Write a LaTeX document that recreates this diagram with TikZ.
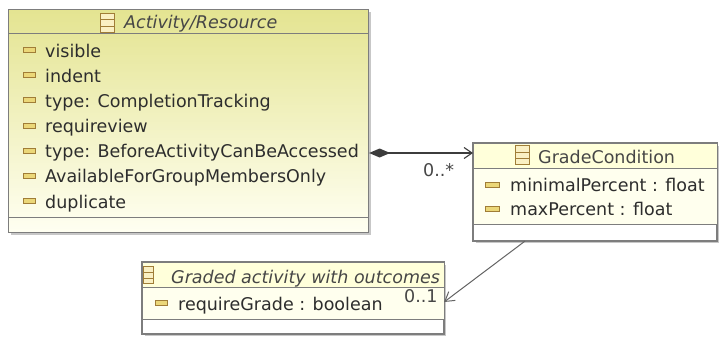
\documentclass[tikz,border=0pt]{standalone}
\usepackage{fontspec}
\setmainfont{DejaVu Sans}
\usetikzlibrary{arrows.meta,calc,shadows}
\definecolor{bord}{RGB}{125,125,125}
\definecolor{txt}{RGB}{45,45,45}
\definecolor{ttl}{RGB}{70,70,70}
\definecolor{iconbrown}{RGB}{160,125,55}
\definecolor{iconfill}{RGB}{250,240,195}
\definecolor{attrfill}{RGB}{235,215,120}
\definecolor{hdrA}{RGB}{228,228,145}
\definecolor{botA}{RGB}{255,255,242}
\definecolor{hdrB}{RGB}{255,255,218}
\definecolor{bodyB}{RGB}{255,255,238}
\definecolor{lnk}{RGB}{60,60,60}
\definecolor{lnkb}{RGB}{100,100,100}
\tikzset{
  umlbox/.style={draw=bord, line width=1.1pt, rectangle, inner sep=0pt, anchor=north west,
    drop shadow={shadow xshift=2pt, shadow yshift=-2pt, fill=black!22, opacity=1}},
  divider/.style={draw=bord, line width=1pt},
  attr/.style={anchor=base west, inner sep=0pt, text=txt},
  title/.style={anchor=base west, inner sep=0pt, text=ttl},
  attricon/.style={draw=iconbrown, fill=attrfill, line width=0.9pt, rectangle, inner sep=0pt,
    minimum width=12pt, minimum height=5pt},
  classicon/.style={draw=iconbrown, fill=iconfill, line width=1pt, rectangle, inner sep=0pt,
    path picture={
      \draw[iconbrown, line width=0.8pt]
        ($(path picture bounding box.north west)!0.36!(path picture bounding box.south west)$) --
        ($(path picture bounding box.north east)!0.36!(path picture bounding box.south east)$)
        ($(path picture bounding box.north west)!0.68!(path picture bounding box.south west)$) --
        ($(path picture bounding box.north east)!0.68!(path picture bounding box.south east)$);
    }},
  comp/.style={draw=lnk, line width=1.4pt, {Diamond[length=21pt,width=9pt,fill=lnk]}-{Straight Barb[length=8pt,width=11pt,line width=1.1pt]}},
  assoc/.style={draw=lnkb, line width=1pt, -{Straight Barb[length=9pt,width=11pt]}},
  mult/.style={anchor=base west, inner sep=0pt, text=ttl}
}
\begin{document}
\begin{tikzpicture}[x=1pt,y=-1pt, font=\fontsize{17.5}{21}\selectfont]
\useasboundingbox[fill=white] (0,0) rectangle (722,340);

% ---------- Activity/Resource ----------
\node[umlbox, minimum width=360pt, minimum height=223pt, top color=hdrA, bottom color=botA] (act) at (8,9) {};
\draw[divider] ($(act.north west)+(0,24)$) -- ($(act.north east)+(0,24)$);
\draw[divider] ($(act.south west)+(0,-16)$) -- ($(act.south east)+(0,-16)$);
\node[classicon, minimum width=14pt, minimum height=19pt] (actic) at (107.5,22.5) {};
\node[title, font=\fontsize{17.5}{21}\selectfont\itshape] (actt) at (124,28) {Activity/Resource};
\foreach \k/\t [count=\i] in {57/visible, 82.2/indent, 107.3/{type: CompletionTracking}, 132.5/requireview,
  157.7/{type: BeforeActivityCanBeAccessed}, 182.8/AvailableForGroupMembersOnly, 208/duplicate}{
  \node[attricon] (acti\i) at (29,\k-7) {};
  \node[attr] (acta\i) at (45,\k) {\t};
}

% ---------- GradeCondition ----------
\node[umlbox, minimum width=243pt, minimum height=97pt, fill=white] (gc) at (473,143) {};
\fill[hdrB] ($(gc.north west)+(0.6,0.6)$) rectangle ($(gc.north east)+(-0.6,25)$);
\fill[bodyB] ($(gc.north west)+(0.6,25)$) rectangle ($(gc.south east)+(-0.6,-17)$);
\draw[bord, line width=1.1pt] (gc.north west) rectangle (gc.south east);
\draw[divider] ($(gc.north west)+(0,25)$) -- ($(gc.north east)+(0,25)$);
\draw[divider] ($(gc.south west)+(0,-17)$) -- ($(gc.south east)+(0,-17)$);
\node[classicon, minimum width=14pt, minimum height=19pt] (gcic) at (522,155) {};
\node[title] (gct) at (538,163) {GradeCondition};
\node[attricon, minimum width=14pt] (gci1) at (492,184.5) {};
\node[attr] (gca1) at (510,191) {minimalPercent : float};
\node[attricon, minimum width=14pt] (gci2) at (492,208.5) {};
\node[attr] (gca2) at (510,215) {maxPercent : float};

% ---------- Graded activity with outcomes ----------
\node[umlbox, minimum width=301pt, minimum height=71pt, fill=white] (ga) at (142,262) {};
\fill[hdrB] ($(ga.north west)+(0.6,0.6)$) rectangle ($(ga.north east)+(-0.6,25)$);
\fill[bodyB] ($(ga.north west)+(0.6,25)$) rectangle ($(ga.south east)+(-0.6,-15)$);
\draw[bord, line width=1.1pt] (ga.north west) rectangle (ga.south east);
\draw[divider] ($(ga.north west)+(0,25)$) -- ($(ga.north east)+(0,25)$);
\draw[divider] ($(ga.south west)+(0,-15)$) -- ($(ga.south east)+(0,-15)$);
\node[classicon, minimum width=10pt, minimum height=17pt] (gaic) at (148,275) {};
\node[title, font=\fontsize{17.5}{21}\selectfont\itshape] (gat) at (171,283) {Graded activity with outcomes};
\node[attricon] (gai1) at (161,303) {};
\node[attr] (gaa1) at (178,310) {requireGrade : boolean};

% ---------- connectors ----------
\coordinate (lvl) at (0,153);
\draw[comp] (act.east |- lvl) -- (gc.west |- lvl);
\node[mult] (m1) at (423,176) {0..*};

\coordinate (x2) at (525,0);
\coordinate (y2) at (0,302);
\draw[assoc] (gc.south -| x2) -- (ga.east |- y2);
\node[mult] (m2) at (404,302) {0..1};
\end{tikzpicture}
\end{document}
